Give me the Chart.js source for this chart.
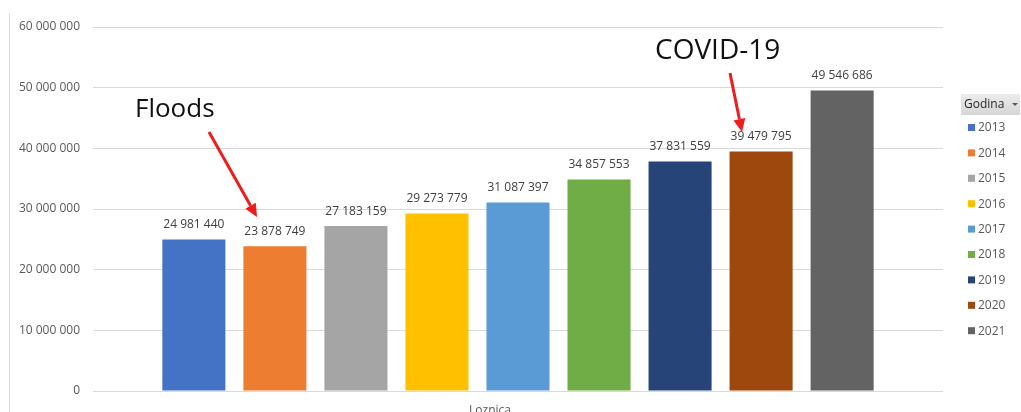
<!DOCTYPE html>
<html>
<head>
<meta charset="utf-8">
<script src="https://cdn.jsdelivr.net/npm/chart.js@4"></script>
<style>
  html, body { margin: 0; padding: 0; background: #fff; }
  #wrap { width: 1021px; height: 412px; }
</style>
</head>
<body>
<div id="wrap"><canvas id="grafico"></canvas></div>
<script>
const categories = ['Loznica'];
const years = ['2013', '2014', '2015', '2016', '2017', '2018', '2019', '2020', '2021'];
const values = [24981440, 23878749, 27183159, 29273779, 31087397, 34857553, 37831559, 39479795, 49546686];
const colors = ['#4472C4', '#ED7D31', '#A5A5A5', '#FFC000', '#5B9BD5', '#70AD47', '#264478', '#9E480E', '#636363'];
const yTicks = [0, 10000000, 20000000, 30000000, 40000000, 50000000, 60000000];
const legendTitle = 'Godina';
const notes = [
  { text: 'Floods', size: 26, x: 135, y: 117, from: [209, 132], to: [257, 217] },
  { text: 'COVID-19', size: 28, x: 655, y: 59, from: [730, 73], to: [742, 132] }
];

const FONT = '"Open Sans", "Noto Sans", sans-serif';

function fmt(v) {
  return String(Math.round(v)).replace(/\B(?=(\d{3})+(?!\d))/g, ' ');
}

// cisla iznad stubova
const dataLabels = {
  id: 'dataLabels',
  afterDatasetsDraw(chart) {
    const ctx = chart.ctx;
    ctx.save();
    ctx.font = '12px ' + FONT;
    ctx.fillStyle = '#404040';
    ctx.textAlign = 'center';
    ctx.textBaseline = 'middle';
    chart.data.datasets.forEach((ds, i) => {
      chart.getDatasetMeta(i).data.forEach((bar, j) => {
        ctx.fillText(fmt(ds.data[j]), bar.x, bar.y - 15);
      });
    });
    ctx.restore();
  }
};

// legenda desno + napomene sa strelicama
const extras = {
  id: 'extras',
  afterDraw(chart) {
    const ctx = chart.ctx;
    ctx.save();

    // leva ivica
    ctx.strokeStyle = '#d9d9d9';
    ctx.lineWidth = 1;
    ctx.beginPath();
    ctx.moveTo(9.5, 13);
    ctx.lineTo(9.5, 412);
    ctx.stroke();

    // naslov legende
    const g = ctx.createLinearGradient(0, 94, 0, 115);
    g.addColorStop(0, '#ececec');
    g.addColorStop(1, '#d6d6d6');
    ctx.fillStyle = g;
    ctx.fillRect(961, 94, 59, 21);
    ctx.fillStyle = '#262626';
    ctx.font = '12px ' + FONT;
    ctx.textAlign = 'left';
    ctx.textBaseline = 'middle';
    ctx.fillText(legendTitle, 964, 105);
    ctx.fillStyle = '#595959';
    ctx.beginPath();
    ctx.moveTo(1012, 103);
    ctx.lineTo(1018, 103);
    ctx.lineTo(1015, 106);
    ctx.closePath();
    ctx.fill();

    // stavke legende
    chart.data.datasets.forEach((ds, i) => {
      const y = 128 + i * 25.4;
      ctx.fillStyle = ds.backgroundColor;
      ctx.fillRect(968, y - 4, 7, 7);
      ctx.fillStyle = '#595959';
      ctx.fillText(ds.label, 978, y);
    });

    // napomene
    notes.forEach(n => {
      ctx.fillStyle = '#111';
      ctx.font = n.size + 'px ' + FONT;
      ctx.textBaseline = 'alphabetic';
      ctx.fillText(n.text, n.x, n.y);

      const [x1, y1] = n.from, [x2, y2] = n.to;
      const ang = Math.atan2(y2 - y1, x2 - x1);
      const hl = 13, hw = 6;
      const bx = x2 - hl * Math.cos(ang), by = y2 - hl * Math.sin(ang);
      ctx.strokeStyle = '#ee1c1c';
      ctx.fillStyle = '#ee1c1c';
      ctx.lineWidth = 3;
      ctx.beginPath();
      ctx.moveTo(x1, y1);
      ctx.lineTo(bx, by);
      ctx.stroke();
      ctx.beginPath();
      ctx.moveTo(x2, y2);
      ctx.lineTo(bx + hw * Math.sin(ang), by - hw * Math.cos(ang));
      ctx.lineTo(bx - hw * Math.sin(ang), by + hw * Math.cos(ang));
      ctx.closePath();
      ctx.fill();
    });

    ctx.restore();
  }
};

const ctx = document.getElementById('grafico').getContext('2d');
const grafico = new Chart(ctx, {
  type: 'bar',
  data: {
    labels: categories,
    datasets: years.map((y, i) => ({
      label: y,
      data: [values[i]],
      backgroundColor: colors[i],
      categoryPercentage: 0.858,
      barPercentage: 0.778
    }))
  },
  options: {
    responsive: true,
    maintainAspectRatio: false,
    animation: false,
    layout: { padding: { top: 27, right: 78, left: 0, bottom: 0 } },
    plugins: {
      legend: { display: false },
      tooltip: { enabled: false }
    },
    scales: {
      x: {
        grid: { display: false, drawTicks: false },
        border: { display: false },
        ticks: { color: '#595959', font: { family: FONT, size: 12 }, padding: 12, labelOffset: -28 },
        afterFit(scale) { scale.height = 21; }
      },
      y: {
        min: 0,
        max: 60000000,
        afterBuildTicks(scale) { scale.ticks = yTicks.map(v => ({ value: v })); },
        grid: { color: '#d9d9d9', drawTicks: false },
        border: { display: false },
        ticks: {
          color: '#595959',
          font: { family: FONT, size: 12 },
          padding: 13,
          callback: v => fmt(v)
        },
        afterFit(scale) { scale.width = 93; }
      }
    }
  },
  plugins: [dataLabels, extras]
});
</script>
</body>
</html>
